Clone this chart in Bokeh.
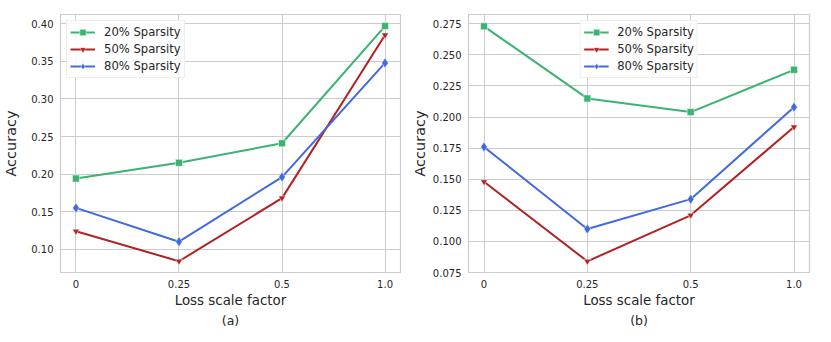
from bokeh.plotting import figure
from bokeh.layouts import row
from bokeh.models import FixedTicker, Title, NumeralTickFormatter, Range1d
from bokeh.embed import file_html
from bokeh.resources import INLINE

categories = ["0", "0.25", "0.5", "1.0"]
series_names = ["20% Sparsity", "50% Sparsity", "80% Sparsity"]

a_20 = [0.194, 0.215, 0.241, 0.397]
a_50 = [0.124, 0.084, 0.168, 0.385]
a_80 = [0.155, 0.110, 0.196, 0.348]

b_20 = [0.273, 0.215, 0.204, 0.238]
b_50 = [0.148, 0.084, 0.121, 0.192]
b_80 = [0.176, 0.110, 0.134, 0.208]

a_yticks = [0.10, 0.15, 0.20, 0.25, 0.30, 0.35, 0.40]
b_yticks = [0.075, 0.100, 0.125, 0.150, 0.175, 0.200, 0.225, 0.250, 0.275]

colors = ["#3cb371", "#b22222", "#4169e1"]
markers = ["square", "inverted_triangle", "diamond"]
msizes = [7, 7, 10]

FONT = "DejaVu Sans"
TXT = "#262626"
GRID = "#cccccc"


def make(series, yticks, yfmt, yrange, leg_loc, sub, w, bright, ystand):
    xs = list(range(len(categories)))
    p = figure(width=w, height=327, output_backend="svg",
               toolbar_location=None, x_range=Range1d(-0.15, 3.15),
               y_range=Range1d(*yrange), min_border_left=54, min_border_right=bright,
               min_border_top=14, min_border_bottom=10)
    p.background_fill_color = "white"
    p.border_fill_color = "white"
    p.outline_line_color = GRID
    p.outline_line_width = 1.2
    for vals, name, c, m, s in zip(series, series_names, colors, markers, msizes):
        p.line(xs, vals, line_color=c, line_width=2, legend_label=name)
        p.scatter(xs, vals, marker=m, size=s, fill_color=c, line_color="white",
                  line_width=0.5, legend_label=name)
    p.xaxis.ticker = FixedTicker(ticks=xs)
    p.xaxis.major_label_overrides = {i: c for i, c in zip(xs, categories)}
    p.yaxis.ticker = FixedTicker(ticks=yticks)
    p.yaxis.formatter = NumeralTickFormatter(format=yfmt)
    for ax in (p.xaxis[0], p.yaxis[0]):
        ax.axis_line_color = None
        ax.major_tick_line_color = None
        ax.minor_tick_line_color = None
        ax.major_tick_out = 0
        ax.major_tick_in = 0
        ax.minor_tick_out = 0
        ax.minor_tick_in = 0
        ax.major_label_text_font = FONT
        ax.major_label_text_font_size = "10px"
        ax.major_label_text_color = TXT
        ax.axis_label_text_font = FONT
        ax.axis_label_text_font_style = "normal"
        ax.axis_label_text_color = TXT
    p.xaxis.major_label_standoff = 7
    p.yaxis.major_label_standoff = 7
    p.xaxis.axis_label = "Loss scale factor"
    p.xaxis.axis_label_text_font_size = "13.4px"
    p.xaxis.axis_label_standoff = 2
    p.yaxis.axis_label = "Accuracy"
    p.yaxis.axis_label_text_font_size = "14.5px"
    p.yaxis.axis_label_standoff = ystand
    p.xgrid.grid_line_color = GRID
    p.ygrid.grid_line_color = GRID
    p.xgrid.ticker = FixedTicker(ticks=xs)
    p.ygrid.ticker = FixedTicker(ticks=yticks)
    t = Title(text=sub, align="center", text_font=FONT, text_font_size="12.5px",
              text_font_style="normal", text_color=TXT, standoff=0)
    p.add_layout(t, "below")
    lg = p.legend[0]
    lg.location = leg_loc
    lg.label_text_font = FONT
    lg.label_text_font_size = "11.6px"
    lg.label_text_color = TXT
    lg.glyph_width = 25
    lg.glyph_height = 16
    lg.label_height = 16
    lg.label_standoff = 9
    lg.spacing = 1
    lg.padding = 3
    lg.margin = 6
    lg.border_line_color = "#dddddd"
    lg.border_line_width = 1
    lg.background_fill_alpha = 0.85
    return p


pa = make([a_20, a_50, a_80], a_yticks, "0.00", (0.069, 0.4124), "top_left", "(a)", 408, 8, 9)
pb = make([b_20, b_50, b_80], b_yticks, "0.000", (0.075, 0.2825), "top_center", "(b)", 407, 6, 2)

layout = row(pa, pb, spacing=0)
open("out.html", "w").write(file_html(layout, INLINE))
